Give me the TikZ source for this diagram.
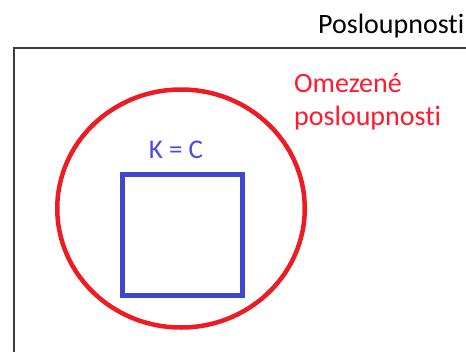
\documentclass[tikz,border=0pt]{standalone}
\usepackage{fontspec}
\setmainfont[Ligatures=NoCommon]{Carlito}
\usetikzlibrary{shapes.geometric}
\definecolor{paintred}{HTML}{ED1C24}
\definecolor{paintblue}{HTML}{3F48CC}
\definecolor{txtred}{HTML}{FF1A2E}
\definecolor{txtblue}{HTML}{4A4ED6}
\definecolor{framegray}{HTML}{3C3C3C}
\begin{document}
\begin{tikzpicture}[x=1pt,y=-1pt,
  lbl/.style={inner sep=0pt, anchor=base west, font=\fontsize{28}{33}\selectfont},
  setring/.style={ellipse, draw=paintred, line width=4.5pt, inner sep=0pt},
  setbox/.style={rectangle, draw=paintblue, line width=5pt, inner sep=0pt}]
\useasboundingbox (0,0) rectangle (466,351);
\fill[white] (0,0) rectangle (466,351);
\node[rectangle, draw=framegray, line width=2pt, inner sep=0pt, anchor=north west,
      minimum width=470pt, minimum height=320pt] (universe) at (13,47) {};
\node[lbl, text=black] (title) at (318,33) {Posloupnosti};
\node[setring, minimum width=247.5pt, minimum height=238pt] (bounded) at (181,208.5) {};
\node[lbl, text=txtred] (boundedA) at (294,92) {Omezené};
\node[lbl, text=txtred] (boundedB) at (294,125) {posloupnosti};
\node[setbox, minimum width=120pt, minimum height=121pt] (kc) at (182.5,235) {};
\node[lbl, anchor=base, text=txtblue, font=\fontsize{27}{33}\selectfont] (kclabel) at (176,158) {K = C};
\end{tikzpicture}
\end{document}
